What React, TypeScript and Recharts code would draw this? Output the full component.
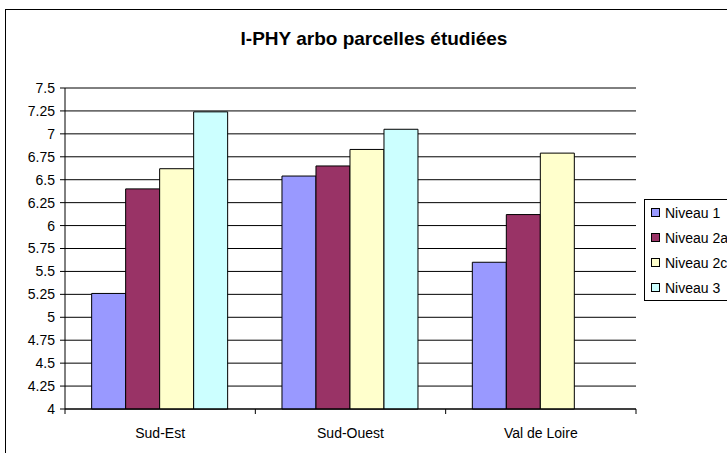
import React from 'react';
import { BarChart, Bar, XAxis, YAxis, CartesianGrid, Legend } from 'recharts';

const categories = ['Sud-Est', 'Sud-Ouest', 'Val de Loire'];
const niveau1 = [5.26, 6.54, 5.6];
const niveau2a = [6.4, 6.65, 6.12];
const niveau2c = [6.62, 6.83, 6.79];
const niveau3: (number | null)[] = [7.24, 7.05, null];
const yTicks = [4, 4.25, 4.5, 4.75, 5, 5.25, 5.5, 5.75, 6, 6.25, 6.5, 6.75, 7, 7.25, 7.5];

const series = [
  { key: 'n1', name: 'Niveau 1', color: '#9999FF' },
  { key: 'n2a', name: 'Niveau 2a', color: '#993366' },
  { key: 'n2c', name: 'Niveau 2c', color: '#FFFFCC' },
  { key: 'n3', name: 'Niveau 3', color: '#CCFFFF' },
];

const data = categories.map((c, i) => ({
  name: c,
  n1: niveau1[i],
  n2a: niveau2a[i],
  n2c: niveau2c[i],
  n3: niveau3[i],
}));

const FONT = '"Liberation Sans", Arial, sans-serif';
const CHART_W = 736;
const CHART_H = 460;
const Y_AXIS_W = 59;
const MARGIN = { top: 78, right: 106, bottom: 31, left: 0 };
const PLOT_W = CHART_W - MARGIN.left - MARGIN.right - Y_AXIS_W;
const BAND = PLOT_W / categories.length;

const CategoryTick = (props: any) => {
  const { x, y, payload, index } = props;
  const left = x - BAND / 2;
  const right = x + BAND / 2;
  return (
    <g>
      <line x1={left} y1={y} x2={left} y2={y + 5} stroke="#000" />
      {index === categories.length - 1 && (
        <line x1={right} y1={y} x2={right} y2={y + 5} stroke="#000" />
      )}
      <text x={x} y={y + 24} textAnchor="middle" dominantBaseline="central" fontSize={14} fill="#000" fontFamily={FONT}>
        {payload.value}
      </text>
    </g>
  );
};

const LegendBox = (props: any) => {
  const items = props.payload || [];
  return (
    <div
      style={{
        border: '1px solid #000',
        background: '#fff',
        width: 110,
        boxSizing: 'border-box',
        fontFamily: FONT,
        fontSize: 14,
        color: '#000',
      }}
    >
      {items.map((it: any) => (
        <div key={it.value} style={{ height: 25, display: 'flex', alignItems: 'center', paddingLeft: 6 }}>
          <span
            style={{
              display: 'inline-block',
              width: 7,
              height: 7,
              background: it.color,
              border: '1px solid #000',
              marginRight: 5,
            }}
          />
          <span style={{ whiteSpace: 'nowrap' }}>{it.value}</span>
        </div>
      ))}
    </div>
  );
};

export default function App() {
  return (
    <div style={{ position: 'fixed', left: 0, top: 0, width: 727, height: 453, overflow: 'hidden', background: '#fff' }}>
      <div
        style={{
          position: 'absolute',
          left: 5,
          top: 9,
          width: 738,
          height: 470,
          border: '1px solid #000',
          boxSizing: 'border-box',
        }}
      >
        <div
          style={{
            position: 'absolute',
            left: 0,
            top: 18,
            width: '100%',
            textAlign: 'center',
            fontFamily: FONT,
            fontWeight: 'bold',
            fontSize: 19,
            lineHeight: '22px',
            color: '#000',
          }}
        >
          I-PHY arbo parcelles étudiées
        </div>
        <BarChart
          width={CHART_W}
          height={CHART_H}
          data={data}
          margin={MARGIN}
          barCategoryGap="14%"
          barGap={0}
        >
          <CartesianGrid vertical={false} stroke="#000" />
          <XAxis
            dataKey="name"
            height={30}
            axisLine={{ stroke: '#000' }}
            tickLine={false}
            tickSize={0}
            tickMargin={0}
            tick={<CategoryTick />}
            interval={0}
          />
          <YAxis
            width={Y_AXIS_W}
            domain={[4, 7.5]}
            ticks={yTicks}
            interval={0}
            axisLine={{ stroke: '#000' }}
            tickLine={{ stroke: '#000' }}
            tickSize={5}
            tickMargin={5}
            tick={{ fontSize: 14, fill: '#000', fontFamily: FONT }}
          />
          <Legend
            layout="horizontal"
            verticalAlign="middle"
            align="center"
            wrapperStyle={{ left: 638, top: 189, width: 110 }}
            content={<LegendBox />}
          />
          {series.map((s) => (
            <Bar
              key={s.key}
              dataKey={s.key}
              name={s.name}
              fill={s.color}
              stroke="#000"
              strokeWidth={1}
              isAnimationActive={false}
            />
          ))}
        </BarChart>
      </div>
    </div>
  );
}
